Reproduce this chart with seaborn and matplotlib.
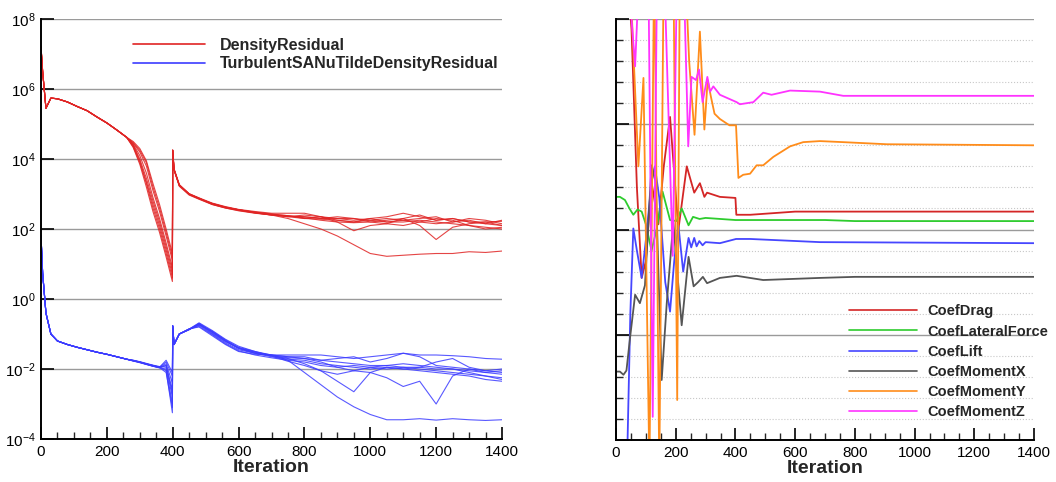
import numpy as np
import pandas as pd
import matplotlib
matplotlib.use("Agg")
import matplotlib.pyplot as plt
from matplotlib.lines import Line2D
from matplotlib.ticker import FixedLocator, MultipleLocator, NullFormatter
import seaborn as sns

# ---------------- data: left panel (log10 of residuals) ----------------
iters_head = [0, 5, 15, 30, 50, 80, 110, 140, 170, 200, 230, 260]
density_head = [7.2, 6.5, 5.45, 5.74, 5.72, 5.63, 5.5, 5.38, 5.2, 5.03, 4.83, 4.62]
turb_head = [1.8, 0.74, -0.4, -1.0, -1.2, -1.3, -1.38, -1.45, -1.52, -1.58, -1.65, -1.72]

iters_tail = [280, 300, 320, 340, 360, 380, 399, 400, 404, 420, 450, 480, 520, 560,
              600, 650, 700, 750, 800, 850, 900, 950, 1000, 1050, 1100, 1150, 1200,
              1250, 1300, 1350, 1400]

density_tail_1 = [4.5, 4.3, 3.95, 3.3, 2.7, 2.0, 1.3, 4.25, 3.7, 3.25, 3.0, 2.88, 2.72, 2.62, 2.55, 2.47, 2.4, 2.3,
                  2.15, 2.0, 1.8, 1.55, 1.3, 1.22, 1.25, 1.28, 1.3, 1.3, 1.35, 1.33, 1.37]
density_tail_2 = [4.45, 4.2, 3.8, 3.1, 2.5, 1.8, 1.1, 4.25, 3.72, 3.27, 3.0, 2.87, 2.73, 2.63, 2.55, 2.47, 2.42, 2.38,
                  2.32, 2.25, 2.2, 2.18, 2.2, 2.25, 2.3, 2.1, 1.7, 2.05, 2.15, 2.2, 2.1]
density_tail_3 = [4.42, 4.1, 3.6, 2.9, 2.3, 1.6, 0.9, 4.25, 3.7, 3.25, 2.98, 2.86, 2.7, 2.6, 2.52, 2.45, 2.4, 2.35,
                  2.4, 2.35, 2.2, 1.95, 2.1, 2.15, 2.3, 2.4, 2.25, 2.3, 2.2, 2.15, 2.25]
density_tail_4 = [4.4, 4.0, 3.45, 2.8, 2.2, 1.5, 0.8, 4.25, 3.68, 3.22, 2.97, 2.85, 2.7, 2.6, 2.53, 2.46, 2.4, 2.36,
                  2.35, 2.3, 2.3, 2.25, 2.3, 2.2, 2.2, 2.25, 2.2, 2.15, 2.1, 2.05, 2.0]
density_tail_5 = [4.38, 3.95, 3.35, 2.7, 2.1, 1.4, 0.7, 4.25, 3.7, 3.24, 2.99, 2.87, 2.72, 2.62, 2.55, 2.48, 2.42, 2.35,
                  2.3, 2.28, 2.25, 2.2, 2.3, 2.35, 2.45, 2.35, 2.25, 2.3, 2.2, 2.2, 2.22]
density_tail_6 = [4.35, 3.9, 3.3, 2.6, 2.0, 1.3, 0.6, 4.25, 3.7, 3.26, 3.01, 2.89, 2.74, 2.64, 2.56, 2.5, 2.45, 2.45,
                  2.45, 2.35, 2.3, 2.3, 2.25, 2.2, 2.25, 2.2, 2.15, 2.2, 2.25, 2.15, 2.1]
density_tail_7 = [4.33, 3.85, 3.2, 2.5, 1.9, 1.2, 0.5, 4.25, 3.7, 3.25, 3.0, 2.88, 2.71, 2.61, 2.54, 2.46, 2.4, 2.37,
                  2.35, 2.3, 2.35, 2.3, 2.2, 2.15, 2.1, 2.2, 2.3, 2.25, 2.1, 2.0, 2.05]
density_tail_8 = [4.47, 4.25, 3.9, 3.2, 2.6, 1.9, 1.2, 4.25, 3.71, 3.25, 3.0, 2.87, 2.73, 2.62, 2.55, 2.48, 2.43, 2.38,
                  2.3, 2.35, 2.25, 2.2, 2.25, 2.3, 2.25, 2.3, 2.35, 2.2, 2.3, 2.25, 2.15]

turb_tail_1 = [-1.76, -1.8, -1.85, -1.9, -1.95, -1.75, -2.1, -0.77, -1.3, -1.0, -0.86, -0.68, -0.9, -1.15, -1.35, -1.5, -1.6, -1.75,
               -2.1, -2.45, -2.8, -3.08, -3.3, -3.45, -3.45, -3.42, -3.46, -3.42, -3.45, -3.47, -3.45]
turb_tail_2 = [-1.77, -1.81, -1.86, -1.92, -1.96, -1.85, -2.4, -0.77, -1.3, -1.0, -0.87, -0.72, -0.95, -1.2, -1.4, -1.55, -1.62, -1.7,
               -1.85, -2.05, -2.35, -2.65, -2.1, -1.95, -2.0, -2.05, -2.1, -2.15, -2.2, -2.3, -2.35]
turb_tail_3 = [-1.76, -1.8, -1.86, -1.91, -1.95, -1.9, -2.6, -0.77, -1.3, -1.0, -0.86, -0.75, -1.0, -1.25, -1.45, -1.55, -1.6, -1.65,
               -1.7, -1.8, -1.95, -2.05, -2.1, -2.25, -2.5, -2.35, -3.0, -2.2, -2.0, -2.1, -2.15]
turb_tail_4 = [-1.75, -1.79, -1.84, -1.89, -1.93, -1.95, -2.8, -0.77, -1.3, -1.0, -0.85, -0.8, -1.05, -1.3, -1.5, -1.58, -1.6, -1.6,
               -1.6, -1.6, -1.65, -1.7, -1.65, -1.6, -1.55, -1.6, -1.6, -1.62, -1.65, -1.7, -1.72]
turb_tail_5 = [-1.77, -1.81, -1.87, -1.92, -1.97, -2.0, -3.0, -0.77, -1.3, -1.0, -0.88, -0.7, -0.95, -1.2, -1.4, -1.52, -1.62, -1.68,
               -1.7, -1.75, -1.7, -1.65, -1.8, -1.7, -1.55, -1.65, -1.9, -1.95, -2.0, -2.05, -2.1]
turb_tail_6 = [-1.76, -1.8, -1.85, -1.9, -1.94, -2.05, -3.25, -0.77, -1.3, -1.0, -0.87, -0.74, -0.92, -1.18, -1.42, -1.55, -1.65, -1.72,
               -1.75, -1.85, -1.9, -1.95, -2.0, -1.95, -2.0, -1.95, -1.8, -1.7, -1.95, -2.05, -2.0]
turb_tail_7 = [-1.75, -1.8, -1.86, -1.9, -1.95, -1.8, -2.2, -0.77, -1.3, -1.0, -0.86, -0.78, -1.02, -1.28, -1.48, -1.6, -1.68, -1.75,
               -1.8, -1.9, -1.95, -1.9, -1.95, -2.0, -1.95, -2.0, -2.05, -2.1, -2.15, -2.2, -2.25]
turb_tail_8 = [-1.77, -1.82, -1.87, -1.92, -1.96, -1.9, -2.7, -0.77, -1.3, -1.0, -0.87, -0.72, -0.98, -1.22, -1.4, -1.52, -1.6, -1.65,
               -1.65, -1.75, -1.8, -1.85, -1.9, -1.9, -1.95, -1.95, -2.0, -2.0, -2.05, -2.1, -2.05]
turb_tail_9 = [-1.76, -1.81, -1.86, -1.91, -1.96, -2.1, -3.1, -0.77, -1.3, -1.0, -0.86, -0.7, -0.93, -1.17, -1.38, -1.5, -1.63, -1.78,
               -1.9, -2.05, -2.15, -2.05, -1.95, -1.9, -1.85, -1.9, -1.95, -2.0, -2.1, -2.2, -2.3]

density_tails = [density_tail_1, density_tail_2, density_tail_3, density_tail_4,
                 density_tail_5, density_tail_6, density_tail_7, density_tail_8]
turb_tails = [turb_tail_1, turb_tail_2, turb_tail_3, turb_tail_4, turb_tail_5,
              turb_tail_6, turb_tail_7, turb_tail_8, turb_tail_9]

residual_names = ["DensityResidual", "TurbulentSANuTildeDensityResidual"]
residual_colors = ["#e02424", "#3c3cff"]

# ---------------- data: right panel (coefficients, plot units) ----------------
coef_names = ["CoefDrag", "CoefLateralForce", "CoefLift", "CoefMomentX", "CoefMomentY", "CoefMomentZ"]
coef_colors = ["#d42626", "#2ecc2e", "#4646ff", "#555555", "#ff8c1a", "#ff33ff"]

drag_iter = [35, 52, 70, 86, 100, 119, 142, 160, 181, 209, 237, 262, 281, 296, 305, 348, 400, 403, 450, 600, 1400]
drag_val = [4.6, 3.9, 2.4, 1.54, 1.7, 2.45, 2.05, 2.6, 3.07, 2.0, 2.6, 2.35, 2.44, 2.31, 2.35, 2.31, 2.3, 2.14, 2.14, 2.17, 2.17]

lateral_iter = [0, 13, 30, 45, 58, 72, 86, 100, 119, 136, 156, 181, 203, 220, 243, 258, 280, 300, 400, 700, 800, 1400]
lateral_val = [2.31, 2.31, 2.28, 2.2, 2.14, 2.19, 2.17, 2.05, 1.8, 2.0, 2.36, 2.09, 2.08, 2.2, 2.04, 2.12, 2.1, 2.11, 2.09, 2.09, 2.08, 2.08]

lift_iter = [38, 48, 58, 70, 86, 100, 119, 130, 145, 165, 181, 195, 209, 225, 243, 252, 262, 270, 279, 290, 300, 348, 402, 450, 683, 1400]
lift_val = [-0.1, 1.2, 2.01, 1.8, 1.54, 1.9, 2.45, 2.6, 2.3, 1.5, 1.22, 1.7, 2.04, 1.6, 1.92, 1.83, 1.92, 1.84, 1.89, 1.85, 1.88, 1.87, 1.91, 1.91, 1.88, 1.87]

momx_iter = [0, 13, 25, 35, 47, 64, 80, 97, 119, 133, 153, 170, 192, 205, 220, 243, 260, 275, 291, 305, 348, 404, 493, 683, 800, 1400]
momx_val = [0.65, 0.65, 0.62, 0.66, 0.97, 1.38, 1.3, 1.47, 2.61, 2.45, 0.57, 1.3, 2.07, 1.6, 1.09, 1.74, 1.46, 1.5, 1.55, 1.49, 1.54, 1.56, 1.52, 1.54, 1.55, 1.55]

momy_iter = [45, 52, 75, 92, 112, 128, 145, 160, 178, 192, 205, 214, 230, 245, 263, 281, 296, 307, 318, 330, 348, 380, 402, 410,
             426, 449, 471, 493, 527, 583, 627, 683, 761, 907, 1400]
momy_val = [4.6, 4.1, 2.6, 3.44, -0.3, 4.6, -0.3, 4.6, 4.6, 4.6, 0.38, 4.6, 4.6, 3.6, 2.9, 3.88, 2.95, 3.42, 3.26, 3.1, 3.05, 2.99, 2.99, 2.49,
            2.52, 2.53, 2.61, 2.61, 2.69, 2.79, 2.83, 2.84, 2.83, 2.81, 2.8]

momz_iter = [40, 52, 64, 80, 108, 123, 138, 160, 190, 205, 225, 242, 253, 268, 278, 290, 306, 315, 326, 348, 404, 415, 460, 493,
             521, 583, 683, 761, 1400]
momz_val = [4.6, 4.0, 3.55, 4.6, 4.6, 0.22, 4.6, 4.6, 1.75, 4.6, 4.6, 2.79, 3.45, 3.42, 3.52, 3.21, 3.45, 3.31, 3.36, 3.28, 3.21, 3.19, 3.21, 3.3,
            3.28, 3.32, 3.31, 3.27, 3.27]

x_major = [0, 200, 400, 600, 800, 1000, 1200, 1400]
y_exponents = [-4, -2, 0, 2, 4, 6, 8]

# ---------------- build tidy frames ----------------
rows = []
for k, tail in enumerate(density_tails):
    for it, v in zip(iters_head + iters_tail, density_head + tail):
        rows.append((it, 10.0 ** v, residual_names[0], f"d{k}"))
for k, tail in enumerate(turb_tails):
    for it, v in zip(iters_head + iters_tail, turb_head + tail):
        rows.append((it, 10.0 ** v, residual_names[1], f"t{k}"))
res_df = pd.DataFrame(rows, columns=["Iteration", "Residual", "Quantity", "Run"])

coef_iters = [drag_iter, lateral_iter, lift_iter, momx_iter, momy_iter, momz_iter]
coef_vals = [drag_val, lateral_val, lift_val, momx_val, momy_val, momz_val]
crows = []
for name, its, vals in zip(coef_names, coef_iters, coef_vals):
    for it, v in zip(its, vals):
        crows.append((it, v, name))
coef_df = pd.DataFrame(crows, columns=["Iteration", "Value", "Coef"])

# ---------------- style ----------------
sns.set_theme(style="white")
plt.rcParams["font.family"] = ["Liberation Sans", "DejaVu Sans"]
plt.rcParams["mathtext.fontset"] = "custom"
plt.rcParams["mathtext.rm"] = "Liberation Sans"
plt.rcParams["mathtext.it"] = "Liberation Sans:italic"
plt.rcParams["mathtext.bf"] = "Liberation Sans:bold"

fig = plt.figure(figsize=(10.56, 4.82), dpi=100)
ax1 = fig.add_axes([41 / 1056, 1 - 439 / 482, 461 / 1056, 420 / 482])
ax2 = fig.add_axes([616 / 1056, 1 - 440 / 482, 418 / 1056, 421 / 482])

# ---------------- left panel ----------------
sns.lineplot(data=res_df, x="Iteration", y="Residual", hue="Quantity", units="Run",
             estimator=None, sort=False, palette=dict(zip(residual_names, residual_colors)),
             lw=0.8, alpha=0.85, legend=False, ax=ax1)
ax1.set_yscale("log")
ax1.set_ylim(1e-4, 1e8)
ax1.set_xlim(0, 1400)
ax1.yaxis.set_major_locator(FixedLocator([10.0 ** e for e in y_exponents]))
ax1.yaxis.set_minor_locator(FixedLocator([]))
ax1.set_yticklabels([r"$\mathregular{10^{%d}}$" % e for e in y_exponents])
ax1.set_ylabel("")

for ax in (ax1, ax2):
    ax.set_xticks(x_major)
    ax.set_xticklabels([str(v) for v in x_major])
    ax.xaxis.set_minor_locator(MultipleLocator(50))
    ax.tick_params(axis="both", which="major", direction="in", length=9, width=1.2,
                   labelsize=11, colors="black", pad=4, bottom=True, left=True)
    ax.tick_params(axis="both", which="minor", direction="in", length=5, width=1.0,
                   bottom=True, left=True)
    for s in ("top", "right"):
        ax.spines[s].set_visible(False)
    for s in ("left", "bottom"):
        ax.spines[s].set_color("black")
        ax.spines[s].set_linewidth(1.4)
    ax.set_xlabel("Iteration", fontsize=14, fontweight="bold", labelpad=0)
    ax.set_facecolor("white")

ax1.grid(True, which="major", axis="y", color="#9a9a9a", lw=1.0, ls="-")
ax1.grid(False, axis="x")
ax1.set_axisbelow(True)

h1 = [Line2D([], [], color=c, lw=1.2) for c in residual_colors]
ax1.legend(h1, residual_names, loc="upper left", bbox_to_anchor=(0.2, 0.955),
           frameon=False, prop={"weight": "bold", "size": 11.5}, handlelength=4.5,
           handletextpad=0.9, labelspacing=0.2, borderpad=0, borderaxespad=0)

# ---------------- right panel ----------------
sns.lineplot(data=coef_df, x="Iteration", y="Value", hue="Coef", estimator=None, sort=False,
             palette=dict(zip(coef_names, coef_colors)), lw=1.3, legend=False, ax=ax2)
ax2.set_ylim(0, 4)
ax2.set_xlim(0, 1400)
ax2.yaxis.set_major_locator(FixedLocator([0, 1, 2, 3, 4]))
ax2.yaxis.set_minor_locator(MultipleLocator(0.2))
ax2.yaxis.set_major_formatter(NullFormatter())
ax2.set_ylabel("")
ax2.grid(True, which="major", axis="y", color="#9a9a9a", lw=1.0, ls="-")
ax2.grid(True, which="minor", axis="y", color="#c8c8c8", lw=0.8, ls=":")
ax2.grid(False, axis="x")
ax2.set_axisbelow(True)

h2 = [Line2D([], [], color=c, lw=1.2) for c in coef_colors]
ax2.legend(h2, coef_names, loc="upper left", bbox_to_anchor=(0.557, 0.322),
           frameon=False, prop={"weight": "bold", "size": 10.5}, handlelength=4.7,
           handletextpad=0.7, labelspacing=0.42, borderpad=0, borderaxespad=0)

fig.savefig("out.png", dpi=100, facecolor="white")
